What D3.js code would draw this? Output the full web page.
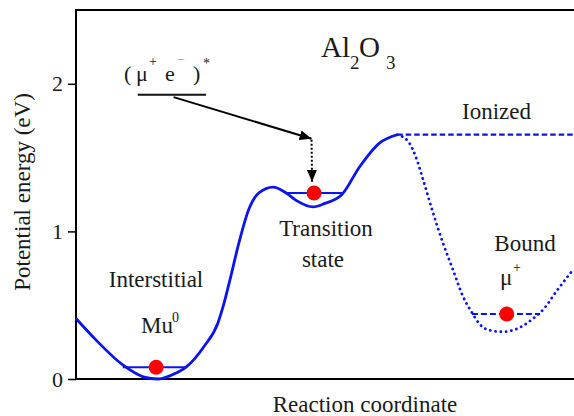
<!DOCTYPE html>
<html>
<head>
<meta charset="utf-8">
<script src="https://cdn.jsdelivr.net/npm/d3@7"></script>
</head>
<body style="margin:0">
<script>
// --- data (reaction coordinate 0..100, energy in eV) ---
const yTicks = [0, 1, 2];

// solid potential: interstitial Mu0 well -> transition state -> barrier top
const solidR = [0, 4.0, 9.4, 13.5, 16.5, 20.1, 22.1, 25.7, 28.5, 29.7, 30.9, 32.7, 34.7, 36.7, 39.6, 42.2, 44.2, 47.6, 50.0, 53.4, 57.0, 61.0, 64.5];
const solidE = [0.41, 0.265, 0.095, 0.015, 0.0, 0.04, 0.08, 0.22, 0.38, 0.51, 0.67, 0.92, 1.15, 1.26, 1.30, 1.26, 1.21, 1.166, 1.19, 1.25, 1.44, 1.60, 1.655];

// dotted potential: bound mu+ well
const boundR = [64.5, 66.7, 68.5, 69.7, 71.7, 73.7, 75.7, 77.7, 79.5, 81.1, 83.1, 85.7, 89.2, 91.8, 93.8, 96.6, 99.8];
const boundE = [1.655, 1.61, 1.48, 1.35, 1.125, 0.92, 0.74, 0.56, 0.45, 0.37, 0.33, 0.32, 0.35, 0.41, 0.47, 0.60, 0.74];

// ionized level (dashed)
const ionR = [64.5, 101];
const ionE = [1.655, 1.655];

// zero-point levels
const levels = [
  { name: "Mu0", r0: 9.4, r1: 22.1, rDot: 16.1, e: 0.08, dashed: false },
  { name: "TS", r0: 42.4, r1: 53.4, rDot: 47.8, e: 1.26, dashed: false },
  { name: "Bound", r0: 79.5, r1: 93.2, rDot: 86.5, e: 0.44, dashed: true }
];

// annotation: excited (mu+ e-)* state falling into the transition state
const excitedLine = { r0: 12.4, r1: 26.1, e: 1.925 };
const arrowFrom = { r: 19.6, e: 1.91 };
const arrowTo = { r: 47.3, e: 1.628 };
const dropTo = { r: 47.4, e: 1.335 };

// --- layout ---
const W = 574, H = 416;
const margin = { left: 76, top: 10, right: 0, bottom: 37 };
const x = d3.scaleLinear().domain([0, 100]).range([margin.left, W]);
const y = d3.scaleLinear().domain([0, 2.5]).range([H - margin.bottom, margin.top]);
const BLUE = "#0a14f0";
const SERIF = "Times New Roman";
const INK = "#1a1a1a";

const svg = d3.select("body").append("svg").attr("width", W).attr("height", H);

const defs = svg.append("defs");
defs.append("marker").attr("id", "head")
  .attr("markerUnits", "userSpaceOnUse")
  .attr("viewBox", "0 0 12 10").attr("refX", 12).attr("refY", 5)
  .attr("markerWidth", 12).attr("markerHeight", 10).attr("orient", "auto")
  .append("path").attr("d", "M0,0 L12,5 L0,10 Z").attr("fill", "#000");

// frame: top and bottom lines
const y0 = y(0), yTop = y(2.5);
svg.append("line").attr("x1", margin.left).attr("x2", W + 2).attr("y1", y0).attr("y2", y0)
  .attr("stroke", "#000").attr("stroke-width", 2);
svg.append("line").attr("x1", margin.left).attr("x2", W + 2).attr("y1", yTop).attr("y2", yTop)
  .attr("stroke", "#000").attr("stroke-width", 2);

// left axis
const yAxis = d3.axisLeft(y).tickValues(yTicks).tickFormat(d3.format("d")).tickSize(8).tickPadding(5);
const gy = svg.append("g").attr("transform", `translate(${margin.left},0)`).call(yAxis);
gy.attr("font-family", SERIF).attr("font-size", 22);
gy.select(".domain").attr("stroke-width", 2).attr("d", `M0,${y0 + 1}V${yTop - 1}`);
gy.selectAll(".tick line").attr("stroke-width", 1.5);
gy.selectAll(".tick text").attr("font-family", SERIF).attr("font-size", 22).attr("fill", INK);

// helper for labels
function label(px, py, txt, size, anchor) {
  const t = svg.append("text").attr("font-size", size).attr("font-family", SERIF)
    .attr("fill", INK).attr("text-anchor", anchor || "start");
  if (px !== null) t.attr("x", px).attr("y", py);
  return t.text(txt);
}

// axis titles
label((margin.left + W) / 2 + 40, 412, "Reaction coordinate", 23, "middle");
label(null, null, "Potential energy (eV)", 23, "middle")
  .attr("transform", "translate(30,192) rotate(-90)");

// curves
const line = d3.line().x(d => x(d[0])).y(d => y(d[1])).curve(d3.curveMonotoneX);

svg.append("path").datum(d3.zip(solidR, solidE)).attr("d", line)
  .attr("fill", "none").attr("stroke", BLUE).attr("stroke-width", 2.8);

svg.append("path").datum(d3.zip(boundR, boundE)).attr("d", line)
  .attr("fill", "none").attr("stroke", BLUE).attr("stroke-width", 2.8)
  .attr("stroke-linecap", "round").attr("stroke-dasharray", "0.1 5.2");

svg.append("path").datum(d3.zip(ionR, ionE)).attr("d", d3.line().x(d => x(d[0])).y(d => y(d[1])))
  .attr("fill", "none").attr("stroke", BLUE).attr("stroke-width", 2.2)
  .attr("stroke-dasharray", "5.5 3");

// levels and red dots
levels.forEach(l => {
  svg.append("line").attr("x1", x(l.r0)).attr("x2", x(l.r1)).attr("y1", y(l.e)).attr("y2", y(l.e))
    .attr("stroke", BLUE).attr("stroke-width", 2)
    .attr("stroke-dasharray", l.dashed ? "6 3" : null);
});
svg.selectAll("circle.dot").data(levels).join("circle").attr("class", "dot")
  .attr("cx", d => x(d.rDot)).attr("cy", d => y(d.e)).attr("r", 7.5).attr("fill", "#ff0000");

// excited state annotation
svg.append("line").attr("x1", x(excitedLine.r0)).attr("x2", x(excitedLine.r1))
  .attr("y1", y(excitedLine.e)).attr("y2", y(excitedLine.e))
  .attr("stroke", "#111").attr("stroke-width", 2);
svg.append("line").attr("x1", x(arrowFrom.r)).attr("y1", y(arrowFrom.e))
  .attr("x2", x(arrowTo.r)).attr("y2", y(arrowTo.e))
  .attr("stroke", "#000").attr("stroke-width", 2).attr("marker-end", "url(#head)");
svg.append("line").attr("x1", x(arrowTo.r)).attr("y1", y(arrowTo.e) + 1)
  .attr("x2", x(dropTo.r)).attr("y2", y(dropTo.e))
  .attr("stroke", "#000").attr("stroke-width", 2).attr("stroke-dasharray", "2 2")
  .attr("marker-end", "url(#head)");

// labels
const ex = label(null, null, "", 22);
ex.append("tspan").attr("x", 124).attr("y", 81).text("(");
ex.append("tspan").attr("x", 136).attr("y", 81).text("μ");
ex.append("tspan").attr("x", 149).attr("y", 66).attr("font-size", 14).text("+");
ex.append("tspan").attr("x", 165).attr("y", 81).text("e");
ex.append("tspan").attr("x", 177).attr("y", 64).attr("font-size", 14).attr("fill", "#999").text("−");
ex.append("tspan").attr("x", 193).attr("y", 81).text(")");
ex.append("tspan").attr("x", 203).attr("y", 68).attr("font-size", 14).text("*");

const al = label(null, null, "", 29);
al.append("tspan").attr("x", 321).attr("y", 57).text("Al");
al.append("tspan").attr("x", 350).attr("y", 69).attr("font-size", 19).text("2");
al.append("tspan").attr("x", 359).attr("y", 57).text("O");
al.append("tspan").attr("x", 386).attr("y", 69).attr("font-size", 19).text("3");

label(462, 119, "Ionized", 23);
label(326, 236, "Transition", 23, "middle");
label(323, 267, "state", 23, "middle");
label(156, 287, "Interstitial", 23, "middle");
label(525, 251, "Bound", 23, "middle");

const mu0 = label(null, null, "", 23);
mu0.append("tspan").attr("x", 141).attr("y", 333).text("Mu");
mu0.append("tspan").attr("x", 172).attr("y", 322).attr("font-size", 14).text("0");

const mup = label(null, null, "", 23);
mup.append("tspan").attr("x", 500).attr("y", 285).text("μ");
mup.append("tspan").attr("x", 513).attr("y", 272).attr("font-size", 14).text("+");
</script>
</body>
</html>
